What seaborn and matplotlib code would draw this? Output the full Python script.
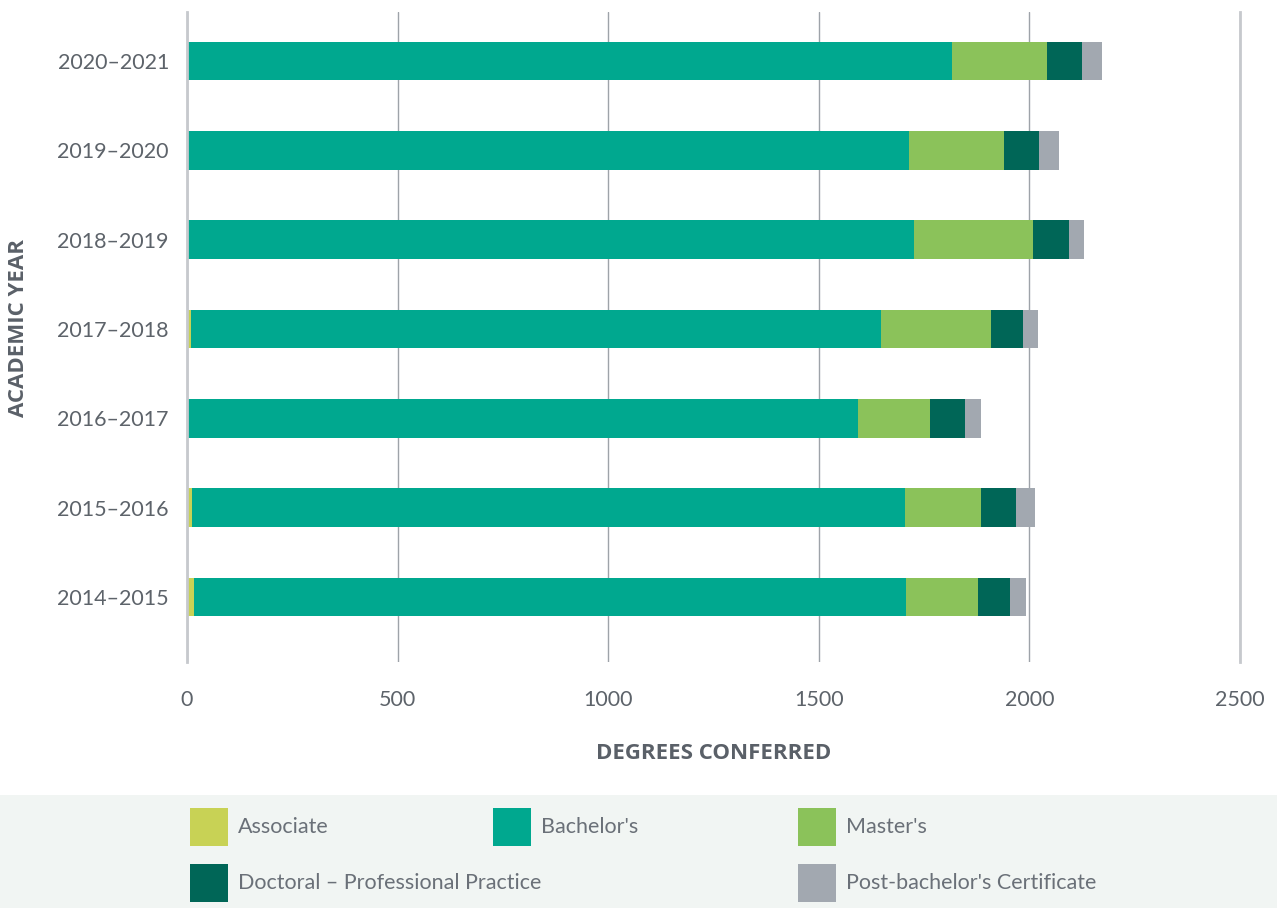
import pandas as pd
import numpy as np
import seaborn as sns
import matplotlib.pyplot as plt
from matplotlib.patches import Rectangle

# Datos (de arriba hacia abajo)
years = ['2020–2021', '2019–2020', '2018–2019', '2017–2018',
         '2016–2017', '2015–2016', '2014–2015']
associate = [0, 0, 0, 9, 0, 12, 17]
bachelors = [1817, 1715, 1727, 1639, 1594, 1692, 1689]
masters = [225, 225, 282, 261, 171, 180, 173]
doctoral = [83, 83, 85, 76, 81, 83, 74]
post_bach = [47, 47, 36, 36, 40, 47, 38]

degree_types = ['Associate', "Bachelor's", "Master's",
                'Doctoral – Professional Practice', "Post-bachelor's Certificate"]
colors = ['#c8d255', '#00a88f', '#8bc25a', '#006657', '#a2a8b0']

df = pd.DataFrame({'year': years, 'Associate': associate, "Bachelor's": bachelors,
                   "Master's": masters, 'Doctoral – Professional Practice': doctoral,
                   "Post-bachelor's Certificate": post_bach})

# Sumas acumuladas para apilar (se dibuja del total hacia el primero)
cum = df[degree_types].cumsum(axis=1)

sns.set_style('white')
plt.rcParams['font.family'] = ['Lato', 'DejaVu Sans']

text_col = '#5d636a'
label_col = '#5a6068'
bold_font = ['Open Sans', 'DejaVu Sans']

fig = plt.figure(figsize=(12.77, 9.08), dpi=100)
ax = fig.add_axes([187 / 1277, 1 - 662 / 908, (1240 - 187) / 1277, 650 / 908])

for name, color in reversed(list(zip(degree_types, colors))):
    sns.barplot(x=cum[name], y=df['year'], order=years, color=color,
                orient='h', width=0.43, saturation=1, ax=ax, linewidth=0)

ax.set_xlim(0, 2500)
ax.set_ylim(6 + 0.728, -0.549)
ax.set_xticks([0, 500, 1000, 1500, 2000, 2500])
ax.xaxis.grid(True, color='#9ea3a9', linewidth=1)
ax.set_axisbelow(True)
for side in ['top', 'bottom']:
    ax.spines[side].set_visible(False)
for side in ['left', 'right']:
    ax.spines[side].set_color('#c6c9cd')
    ax.spines[side].set_linewidth(2)
ax.tick_params(axis='both', length=0, labelcolor=text_col, labelsize=15.5)
ax.tick_params(axis='x', pad=20)
ax.tick_params(axis='y', pad=13)
ax.set_xlabel('DEGREES CONFERRED', fontsize=16, fontweight='bold',
              color=label_col, family=bold_font, labelpad=24)
ax.set_ylabel('ACADEMIC YEAR', fontsize=16, fontweight='bold',
              color=label_col, family=bold_font)
ax.yaxis.set_label_coords(-158 / (1240 - 187), 0.514)

# Leyenda manual sobre franja gris clara
fig.patches.append(Rectangle((0, 0), 1, 113 / 908, transform=fig.transFigure,
                             facecolor='#f1f5f3', edgecolor='none', zorder=0))
slots = [(190, 827), (493, 827), (798, 827), (190, 883), (798, 883)]
for (px, py), name, color in zip(slots, degree_types, colors):
    fig.patches.append(Rectangle((px / 1277, 1 - (py + 19) / 908), 38 / 1277, 38 / 908,
                                 transform=fig.transFigure, facecolor=color,
                                 edgecolor='none', zorder=1))
    fig.text((px + 48) / 1277, 1 - py / 908, name, fontsize=15.5,
             color='#6a7078', va='center', ha='left')

fig.savefig('out.png', dpi=100)
